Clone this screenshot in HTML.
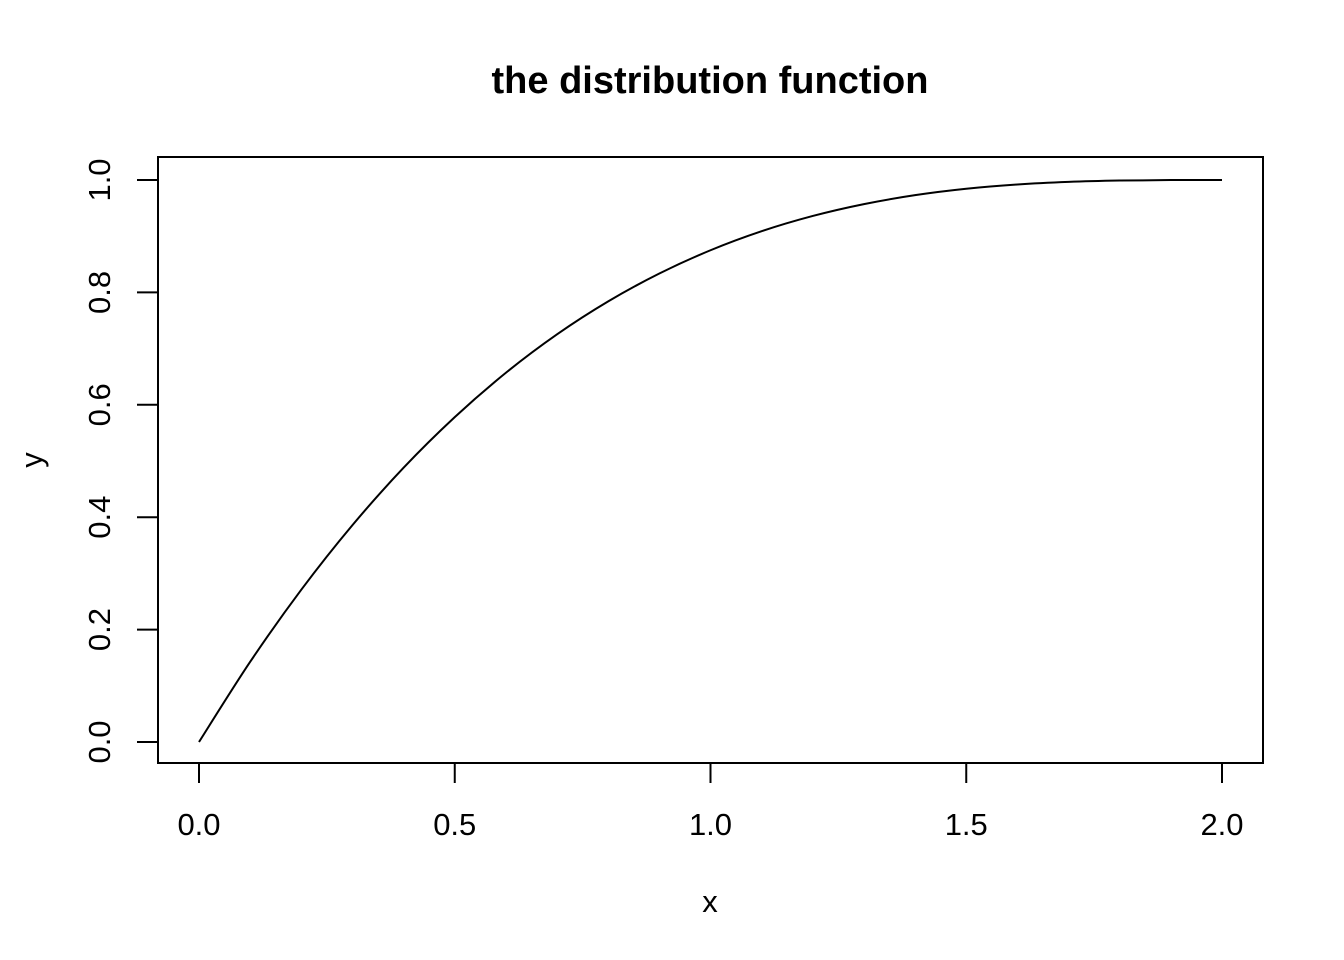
<!DOCTYPE html>
<html><head><meta charset="utf-8"><style>
body{margin:0;background:#fff}
svg{display:block;font-family:"Liberation Sans",Arial,sans-serif}
</style></head><body>
<svg id="chart" width="1344" height="960">
<text x="710" y="93" text-anchor="middle" font-weight="bold" font-size="38">the distribution function</text>
<rect x="158" y="157" width="1105" height="606" fill="none" stroke="#000" stroke-width="2"/>
<g id="xaxis"></g>
<g id="yaxis"></g>
<text x="710" y="912" text-anchor="middle" font-size="31">x</text>
<text transform="translate(42,460) rotate(-90)" text-anchor="middle" font-size="31">y</text>
<path id="curve" fill="none" stroke="#000" stroke-width="2"/>
</svg>
<script>
const xs=[0,0.1,0.2,0.3,0.4,0.5,0.6,0.7,0.8,0.9,1.0,1.1,1.2,1.3,1.4,1.5,1.6,1.7,1.8,1.9,2.0];
const ys=[0,0.1426,0.271,0.3859,0.488,0.578,0.657,0.7254,0.784,0.8336,0.875,0.9089,0.936,0.9571,0.973,0.9844,0.992,0.9966,0.999,0.9999,1.0];
const xTicks=[0,0.5,1,1.5,2];
const xTickLabels=["0.0","0.5","1.0","1.5","2.0"];
const yTicks=[0,0.2,0.4,0.6,0.8,1];
const yTickLabels=["0.0","0.2","0.4","0.6","0.8","1.0"];
const NS="http://www.w3.org/2000/svg";
const X=v=>199+v*511.5, Y=v=>742-v*562;
const xa=document.getElementById('xaxis'), ya=document.getElementById('yaxis');
function mk(t,a,p){const e=document.createElementNS(NS,t);for(const k in a)e.setAttribute(k,a[k]);p.appendChild(e);return e;}
mk('line',{x1:X(xTicks[0]),x2:X(xTicks[xTicks.length-1]),y1:763,y2:763,stroke:'#000','stroke-width':2},xa);
xTicks.forEach((v,i)=>{
 const l=mk('line',{x1:X(v),x2:X(v),y1:763,y2:783,stroke:'#000','stroke-width':2},xa);
 
 
 const t=mk('text',{x:X(v),y:835,'text-anchor':'middle','font-size':31},xa);t.textContent=xTickLabels[i];
 
 
});
yTicks.forEach((v,i)=>{
 const l=mk('line',{x1:137,x2:158,y1:Y(v),y2:Y(v),stroke:'#000','stroke-width':2},ya);
 
 
 const t=mk('text',{transform:`translate(110,${Y(v)}) rotate(-90)`,'text-anchor':'middle','font-size':31},ya);t.textContent=yTickLabels[i];
 
 
});
const P=xs.map((x,i)=>[X(x),Y(ys[i])]);
let d=`M${P[0][0]},${P[0][1]}`;
for(let i=0;i<P.length-1;i++){
 const p0=P[Math.max(0,i-1)],p1=P[i],p2=P[i+1],p3=P[Math.min(P.length-1,i+2)];
 d+=` C${p1[0]+(p2[0]-p0[0])/6},${p1[1]+(p2[1]-p0[1])/6} ${p2[0]-(p3[0]-p1[0])/6},${p2[1]-(p3[1]-p1[1])/6} ${p2[0]},${p2[1]}`;
}
document.getElementById('curve').setAttribute('d',d);
</script>
</body></html>
